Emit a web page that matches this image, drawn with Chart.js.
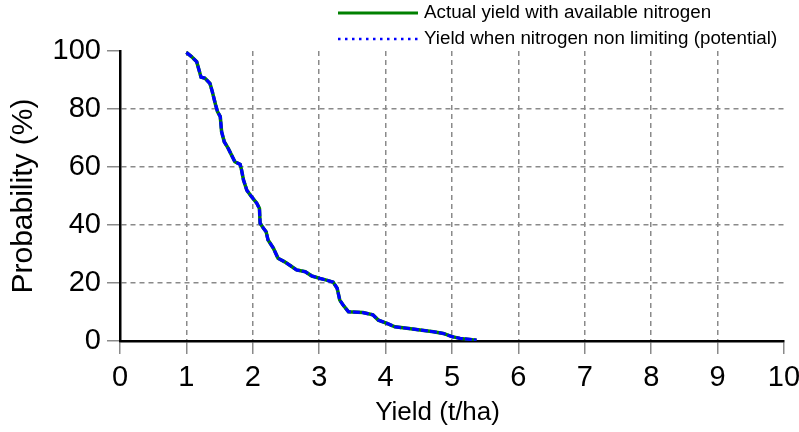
<!DOCTYPE html>
<html lang="en">
<head>
  <meta charset="UTF-8" />
  <title>Yield probability</title>
  <script src="https://cdn.jsdelivr.net/npm/chart.js"></script>
  <style>
    html, body { margin: 0; padding: 0; background: #fff; }
    #wrap { width: 799px; height: 432px; }
  </style>
</head>
<body>
  <div id="wrap"><canvas id="grafik" width="799" height="432"></canvas></div>

  <script>
    // yield (t/ha) and probability of exceeding it (%)
    const yieldActual = [1.00, 1.08, 1.155, 1.22, 1.28, 1.355, 1.39, 1.44, 1.47, 1.51, 1.53, 1.57, 1.63, 1.68, 1.73, 1.81, 1.83, 1.86, 1.91, 1.98, 2.06, 2.10, 2.11, 2.16, 2.20, 2.23, 2.31, 2.38, 2.48, 2.59, 2.66, 2.79, 2.89, 3.01, 3.11, 3.21, 3.27, 3.31, 3.36, 3.44, 3.66, 3.81, 3.89, 4.02, 4.14, 4.32, 4.52, 4.72, 4.87, 5.00, 5.12, 5.37];
    const probActual = [99.5, 98, 96.3, 91, 90.6, 88.8, 86, 81.4, 79, 77.4, 72.2, 68.7, 66.4, 64.1, 61.8, 60.9, 59, 55.5, 52, 49.8, 47.5, 45.7, 40.6, 38.9, 37.7, 34.8, 32, 28.5, 27.3, 25.6, 24.5, 23.9, 22.4, 21.6, 21.0, 20.3, 18.2, 14.1, 12.4, 10.1, 9.8, 9.0, 7.2, 6.1, 4.9, 4.4, 3.8, 3.2, 2.6, 1.5, 0.9, 0.3];
    const yieldPotential = yieldActual.slice();
    const probPotential = probActual.slice();

    const xTicks = [0, 1, 2, 3, 4, 5, 6, 7, 8, 9, 10];
    const yTicks = [0, 20, 40, 60, 80, 100];
    const seriesLabels = ['Actual yield with available nitrogen', 'Yield when nitrogen non limiting (potential)'];

    const FONT = 'Arial, "Liberation Sans", sans-serif';

    function toPoints(xs, ys) {
      return xs.map((x, i) => ({ x, y: ys[i] }));
    }

    // legend drawn in the top right corner, line sample + text
    const legendPlugin = {
      id: 'cornerLegend',
      afterDraw(chart) {
        const ctx = chart.ctx;
        const rows = [13, 39];
        ctx.save();
        ctx.font = '18.8px ' + FONT;
        ctx.textBaseline = 'middle';
        ctx.fillStyle = '#000';
        seriesLabels.forEach((label, i) => {
          const ds = chart.data.datasets[i];
          const y = rows[i];
          ctx.beginPath();
          ctx.lineWidth = i === 0 ? 3 : 2.5;
          ctx.strokeStyle = ds.borderColor;
          ctx.setLineDash(i === 0 ? [] : [2.5, 4.5]);
          ctx.moveTo(338, y);
          ctx.lineTo(418, y);
          ctx.stroke();
          ctx.setLineDash([]);
          ctx.fillText(label, 424, y);
        });
        ctx.restore();
      }
    };

    function interiorGrid(ticks) {
      return c => (c.index === 0 || c.index === ticks.length - 1) ? 'rgba(0,0,0,0)' : '#8a8a8a';
    }

    new Chart(document.getElementById('grafik'), {
      type: 'line',
      data: {
        datasets: [
          {
            label: seriesLabels[0],
            data: toPoints(yieldActual, probActual),
            borderColor: '#008000',
            borderWidth: 3.5,
            pointRadius: 0,
            tension: 0,
            order: 2
          },
          {
            label: seriesLabels[1],
            data: toPoints(yieldPotential, probPotential),
            borderColor: '#0000ff',
            borderWidth: 3.2,
            borderDash: [7, 2],
            pointRadius: 0,
            tension: 0,
            order: 1
          }
        ]
      },
      options: {
        responsive: false,
        animation: false,
        layout: { padding: { top: 51, right: 0, left: 0, bottom: 0 } },
        plugins: { legend: { display: false }, tooltip: { enabled: false } },
        scales: {
          x: {
            type: 'linear',
            min: 0,
            max: 10,
            afterBuildTicks: s => { s.ticks = xTicks.map(v => ({ value: v })); },
            afterFit: s => { s.height = 91; s.paddingRight = 15; },
            ticks: { color: '#000', font: { family: FONT, size: 29 }, padding: 7, maxRotation: 0 },
            grid: { color: interiorGrid(xTicks), lineWidth: 1.5, tickColor: '#8a8a8a', tickLength: 13 },
            border: { color: '#000', width: 2.5, dash: [5, 4] },
            title: { display: true, text: 'Yield (t/ha)    ', color: '#000', font: { family: FONT, size: 26 }, padding: { top: 0, bottom: 4 } }
          },
          y: {
            min: 0,
            max: 100,
            afterBuildTicks: s => { s.ticks = yTicks.map(v => ({ value: v })); },
            afterFit: s => { s.width = 120; },
            ticks: { color: '#000', font: { family: FONT, size: 29 }, padding: 6 },
            grid: { color: interiorGrid(yTicks), lineWidth: 1.5, tickColor: '#8a8a8a', tickLength: 13 },
            border: { color: '#000', width: 2.5, dash: [5, 4] },
            title: { display: true, text: 'Probability (%)', color: '#000', font: { family: FONT, size: 30 }, padding: { top: 6, bottom: 0 } }
          }
        }
      },
      plugins: [legendPlugin]
    });
  </script>
</body>
</html>
